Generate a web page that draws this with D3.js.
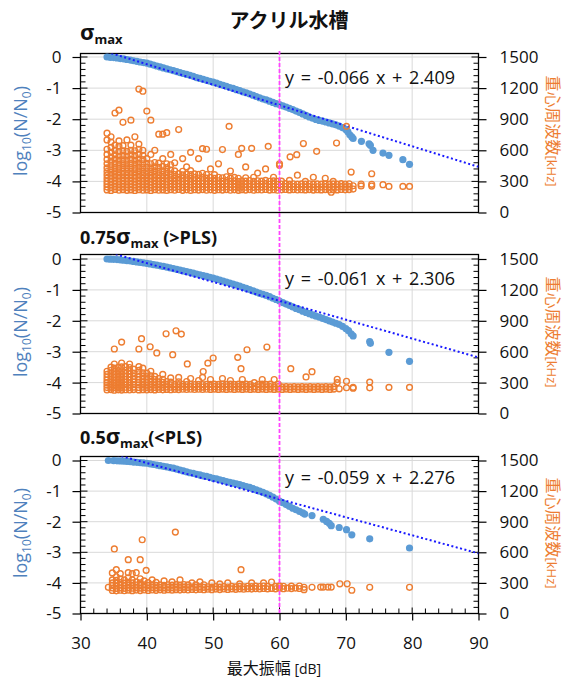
<!DOCTYPE html>
<html lang="ja">
<head>
<meta charset="UTF-8">
<title>アクリル水槽</title>
<script src="https://d3js.org/d3.v7.min.js"></script>
<style>
  body { margin: 0; background: #fff; }
  svg { display: block; background: #fff; }
  .tick text { font-family: 'Open Sans', sans-serif; font-size: 17px; fill: #111; }
</style>
</head>
<body>
<svg id="chart" width="568" height="681"></svg>
<script>
// ---- data ----
const xTicks = [30, 40, 50, 60, 70, 80, 90];
const leftTicks = [0, -1, -2, -3, -4, -5];
const rightTicks = [0, 300, 600, 900, 1200, 1500];

// log10(N/N0) vs max amplitude [dB]
const blue1 = [[34.0,0.00],[34.5,-0.01],[35.0,-0.02],[35.5,-0.03],[36.0,-0.05],[36.5,-0.06],[37.0,-0.08],[37.5,-0.10],[38.0,-0.12],[38.5,-0.14],[39.0,-0.16],[39.5,-0.18],[40.0,-0.20],[40.5,-0.23],[41.0,-0.26],[41.5,-0.29],[42.0,-0.32],[42.5,-0.35],[43.0,-0.38],[43.5,-0.41],[44.0,-0.44],[44.5,-0.47],[45.0,-0.50],[45.5,-0.53],[46.0,-0.56],[46.5,-0.59],[47.0,-0.62],[47.5,-0.66],[48.0,-0.69],[48.5,-0.72],[49.0,-0.75],[49.5,-0.78],[50.0,-0.81],[50.5,-0.84],[51.0,-0.88],[51.5,-0.91],[52.0,-0.94],[52.5,-0.98],[53.0,-1.01],[53.5,-1.05],[54.0,-1.08],[54.5,-1.12],[55.0,-1.15],[55.5,-1.19],[56.0,-1.23],[56.5,-1.27],[57.0,-1.31],[57.5,-1.35],[58.0,-1.38],[58.5,-1.42],[59.0,-1.46],[59.5,-1.50],[60.0,-1.53],[60.5,-1.57],[61.0,-1.61],[61.5,-1.65],[62.0,-1.69],[62.5,-1.74],[63.0,-1.78],[63.5,-1.83],[64.0,-1.88],[64.5,-1.93],[65.0,-1.97],[65.5,-2.01],[66.0,-2.04],[66.5,-2.06],[67.0,-2.09],[67.5,-2.12],[68.0,-2.15],[68.5,-2.18],[69.0,-2.22],[69.5,-2.27],[70.0,-2.33],[70.3,-2.40],[70.6,-2.50],[70.9,-2.57],[71.1,-2.62],[72.35,-2.71],[73.5,-2.79],[73.7,-2.84],[74.1,-3.00],[75.6,-3.09],[76.5,-3.16],[78.6,-3.30],[79.6,-3.45]];
const blue2 = [[34.0,0.00],[34.5,-0.005],[35.0,-0.01],[35.5,-0.02],[36.0,-0.03],[36.5,-0.04],[37.0,-0.05],[37.5,-0.065],[38.0,-0.08],[38.5,-0.095],[39.0,-0.11],[39.5,-0.125],[40.0,-0.14],[40.5,-0.16],[41.0,-0.18],[41.5,-0.20],[42.0,-0.22],[42.5,-0.24],[43.0,-0.26],[43.5,-0.285],[44.0,-0.31],[44.5,-0.335],[45.0,-0.36],[45.5,-0.385],[46.0,-0.41],[46.5,-0.435],[47.0,-0.46],[47.5,-0.485],[48.0,-0.51],[48.5,-0.54],[49.0,-0.565],[49.5,-0.59],[50.0,-0.62],[50.5,-0.65],[51.0,-0.68],[51.5,-0.715],[52.0,-0.75],[52.5,-0.78],[53.0,-0.81],[53.5,-0.845],[54.0,-0.88],[54.5,-0.915],[55.0,-0.95],[55.5,-0.99],[56.0,-1.03],[56.5,-1.07],[57.0,-1.11],[57.5,-1.14],[58.0,-1.18],[58.5,-1.22],[59.0,-1.27],[59.5,-1.31],[60.0,-1.36],[60.5,-1.41],[61.0,-1.46],[61.5,-1.50],[62.0,-1.55],[62.5,-1.60],[63.0,-1.64],[63.5,-1.69],[64.0,-1.73],[64.5,-1.77],[65.0,-1.81],[65.5,-1.85],[66.0,-1.88],[66.5,-1.92],[67.0,-1.96],[67.5,-2.00],[68.0,-2.04],[68.5,-2.08],[69.0,-2.12],[69.5,-2.18],[70.0,-2.25],[70.4,-2.32],[70.8,-2.42],[71.1,-2.49],[73.6,-2.67],[73.7,-2.73],[76.5,-3.02],[79.6,-3.31]];
const blue3 = [[34.2,0.00],[35.0,-0.005],[35.5,-0.01],[36.0,-0.015],[36.5,-0.02],[37.0,-0.03],[37.5,-0.04],[38.0,-0.05],[38.5,-0.06],[39.0,-0.07],[39.5,-0.08],[40.0,-0.09],[40.5,-0.11],[41.0,-0.13],[41.5,-0.15],[42.0,-0.17],[42.5,-0.19],[43.0,-0.21],[43.5,-0.23],[44.0,-0.25],[44.5,-0.28],[45.0,-0.31],[45.5,-0.34],[46.0,-0.37],[46.5,-0.40],[47.0,-0.42],[47.5,-0.45],[48.0,-0.47],[48.5,-0.50],[49.0,-0.52],[49.5,-0.55],[50.0,-0.58],[50.5,-0.60],[51.0,-0.63],[51.5,-0.66],[52.0,-0.69],[52.5,-0.71],[53.0,-0.74],[53.5,-0.76],[54.0,-0.79],[54.5,-0.82],[55.0,-0.85],[55.5,-0.88],[56.0,-0.92],[56.5,-0.96],[57.0,-1.00],[57.5,-1.04],[58.0,-1.09],[58.5,-1.14],[59.0,-1.20],[59.5,-1.26],[60.0,-1.33],[60.5,-1.38],[61.0,-1.44],[61.5,-1.50],[62.0,-1.56],[62.5,-1.61],[63.0,-1.66],[63.5,-1.71],[63.8,-1.75],[64.9,-1.80],[66.6,-1.92],[67.1,-1.99],[67.5,-2.05],[67.8,-2.13],[69.0,-2.19],[70.1,-2.26],[70.9,-2.43],[73.6,-2.56],[79.6,-2.86]];

// centroid frequency [kHz]: [dB, [kHz values at that amplitude]]
const orange1 = [
  [34.0,[218,245,272,300,330,362,395,430,470,512,560,610,700,765]],
  [34.6,[212,240,268,296,325,356,388,422,458,495,535,580,628,680,730]],
  [35.2,[222,250,278,305,336,368,400,436,474,515,556,600,650,960]],
  [35.8,[215,243,270,298,328,360,392,428,466,505,545,590,640,690,987]],
  [36.4,[220,248,276,304,334,366,398,432,470,508,548,595,645,870]],
  [37.0,[214,242,270,300,330,362,396,430,468,505,545,590,700]],
  [37.6,[218,246,274,302,333,365,398,434,472,512,555,600,650,891]],
  [38.2,[212,240,268,297,328,360,393,428,466,505,548,595,730]],
  [38.8,[220,248,276,305,336,368,402,438,476,515,560,610,660,1191]],
  [39.4,[215,243,271,300,331,363,397,433,470,510,552,600,1170]],
  [40.0,[218,246,274,303,334,366,400,436,475,520,978]],
  [40.6,[212,240,268,297,328,360,394,430,470,560,891]],
  [41.2,[220,248,276,305,336,368,402,440,482,600]],
  [41.8,[215,243,271,300,331,363,398,436,476,756]],
  [42.4,[218,246,274,303,334,367,402,445,520,756]],
  [43.0,[213,241,269,298,329,362,396,432,470,770]],
  [43.6,[220,248,276,305,337,372,410,460,560]],
  [44.2,[215,243,271,300,332,366,402,480]],
  [44.8,[222,250,278,307,340,375,800]],
  [45.4,[214,242,270,299,330,362,398,520]],
  [46.0,[219,247,275,304,336,370,440]],
  [46.6,[213,241,269,298,330,365,404,580]],
  [47.2,[220,248,276,306,338,372]],
  [47.8,[216,244,272,301,333,368,520]],
  [48.4,[221,249,277,306,340,378,616]],
  [49.0,[215,243,271,300,332,366,610]],
  [49.6,[219,247,275,305,338,420]],
  [50.2,[214,242,270,299,330,365]],
  [50.8,[220,248,276,306,340,470]],
  [51.4,[216,244,272,302,335,607]],
  [52.0,[221,249,277,307,345]],
  [52.4,[831]],
  [52.6,[215,243,271,300,332,400]],
  [53.2,[219,247,275,305,338]],
  [53.8,[214,242,270,299,330,560]],
  [54.3,[220,248,276,306,619]],
  [54.9,[216,244,272,302,335,440]],
  [55.5,[221,249,277,308]],
  [55.8,[619]],
  [56.1,[215,243,271,300,340]],
  [56.7,[220,248,276,306,380]],
  [57.3,[217,245,273,303]],
  [57.9,[222,250,278,310,420]],
  [58.3,[638]],
  [58.5,[216,244,272,301]],
  [59.1,[220,248,276,305,340]],
  [59.7,[215,243,271,300]],
  [60.0,[455,470]],
  [60.3,[219,247,275,302]],
  [60.9,[222,250,278]],
  [61.5,[218,246,274,310]],
  [61.6,[537]],
  [62.1,[221,249,277]],
  [62.6,[558]],
  [62.7,[217,245,273,360]],
  [63.3,[220,248,276]],
  [63.6,[665]],
  [63.9,[218,246,274,300]],
  [64.5,[221,249,277]],
  [65.1,[216,244,272,340]],
  [65.6,[590]],
  [65.7,[220,248,276]],
  [66.3,[218,246,274]],
  [66.9,[221,249,277,330]],
  [67.5,[217,245,273]],
  [67.8,[196]],
  [68.1,[220,248,276,300]],
  [68.6,[670]],
  [68.7,[218,246,274]],
  [69.3,[222,250,278]],
  [69.9,[219,247,275]],
  [70.1,[831]],
  [70.5,[221,249,277]],
  [70.8,[390]],
  [71.1,[226,258]],
  [72.3,[256,275]],
  [73.9,[255,272,374]],
  [75.6,[268]],
  [76.5,[252]],
  [78.6,[252]],
  [79.6,[252]]
];
const orange2 = [
  [34.0,[228,252,276,300,325,352,380,410]],
  [34.6,[232,256,280,305,330,358,388,420,450]],
  [35.1,[226,250,274,298,323,350,378,408,440,480,626]],
  [35.7,[230,254,278,302,328,356,385,416,448]],
  [36.2,[227,251,275,300,326,354,384,415,452,490,693]],
  [36.8,[231,255,279,304,330,358,388,420,455]],
  [37.4,[228,252,276,300,326,354,383,414,446,480]],
  [38.0,[232,256,280,305,331,360,392,430]],
  [38.8,[229,253,277,302,328,356,386,418,455,626]],
  [39.2,[726]],
  [39.4,[231,255,279,304,332,362,395,440]],
  [40.0,[228,252,276,301,328,358,392]],
  [40.5,[648]],
  [40.6,[232,256,280,306,334,366,410]],
  [41.2,[229,253,277,302,330,360]],
  [41.5,[588]],
  [41.8,[233,257,281,307,340]],
  [42.4,[230,254,278,303,332,380]],
  [42.9,[774]],
  [43.0,[234,258,282,310]],
  [43.6,[231,255,279,305,345]],
  [43.9,[571]],
  [44.2,[235,259,283]],
  [44.4,[803]],
  [44.8,[232,256,280,308,350]],
  [45.2,[771]],
  [45.4,[236,260,284]],
  [46.0,[233,257,281,310]],
  [46.1,[481]],
  [46.6,[236,260,284,340]],
  [47.2,[233,257,281]],
  [47.8,[236,260,284,320]],
  [48.4,[233,257,281,350]],
  [48.5,[408]],
  [49.0,[236,260,284]],
  [49.2,[489]],
  [49.6,[234,258,282,330]],
  [50.0,[539]],
  [50.2,[237,261,285]],
  [50.8,[234,258,282]],
  [51.4,[237,261,285,340]],
  [52.0,[234,258,282]],
  [52.6,[237,261,285,320]],
  [53.2,[234,258,282]],
  [53.7,[545]],
  [53.8,[237,261,285]],
  [54.2,[435]],
  [54.4,[234,258,282,330]],
  [55.0,[237,261,285]],
  [55.1,[619]],
  [55.6,[234,258,282]],
  [56.2,[237,261,300]],
  [56.8,[234,258,282]],
  [57.4,[237,261,285,330]],
  [58.0,[234,258,282]],
  [58.1,[645]],
  [58.6,[237,261,285]],
  [59.2,[234,258,330]],
  [59.8,[237,261,285]],
  [60.4,[234,258]],
  [61.0,[237,261]],
  [61.6,[234,258]],
  [61.7,[435]],
  [62.2,[237,261]],
  [62.8,[234,258]],
  [63.4,[237,261]],
  [64.0,[234,258,355]],
  [64.6,[237,261]],
  [64.9,[406]],
  [65.2,[234,258]],
  [65.8,[237,261]],
  [66.4,[234,258]],
  [67.0,[237,261]],
  [67.6,[234,258]],
  [68.2,[237,261]],
  [68.7,[300,332]],
  [69.0,[240]],
  [70.1,[250,313]],
  [71.1,[245,254]],
  [73.6,[249,305]],
  [76.5,[254]],
  [79.6,[254]]
];
const orange3 = [
  [34.2,[257]],
  [34.8,[226,250,275,300,330,398]],
  [35.1,[633]],
  [35.4,[222,246,270,296,325,360,430]],
  [36.0,[228,252,277,303,340,390]],
  [36.6,[223,247,272,298,330]],
  [37.2,[229,253,278,305,350,400,528]],
  [37.8,[224,248,273,300,330,390]],
  [38.4,[230,254,279,310,400]],
  [39.0,[225,249,274,300,340,528]],
  [39.3,[723]],
  [39.6,[231,255,280,320]],
  [39.9,[423]],
  [40.2,[226,250,275,302]],
  [40.8,[231,255,280,330]],
  [41.4,[227,251,276,305]],
  [42.0,[232,256,281]],
  [42.6,[228,252,277,320]],
  [43.2,[233,257,282]],
  [43.8,[229,253,278,310]],
  [44.3,[798]],
  [44.4,[234,258,283]],
  [45.0,[230,254,279,330]],
  [45.6,[235,259,284]],
  [46.2,[231,255,280]],
  [46.8,[236,260,300]],
  [47.4,[232,256,281]],
  [48.0,[237,261,310]],
  [48.6,[233,257,282]],
  [49.2,[238,262]],
  [49.8,[234,258,300]],
  [50.4,[239,263]],
  [51.0,[235,259,290]],
  [51.6,[240,264]],
  [52.2,[236,260,300]],
  [52.8,[241,265]],
  [53.4,[237,261]],
  [54.0,[242,266,290]],
  [54.2,[430]],
  [54.6,[238,262]],
  [55.2,[243,267]],
  [55.8,[239,263,300]],
  [56.4,[244,268]],
  [57.0,[240,264]],
  [57.6,[245,269,300]],
  [58.2,[241,265]],
  [58.8,[246,309]],
  [59.4,[242,266]],
  [60.0,[247,270]],
  [60.6,[243,267]],
  [61.2,[248]],
  [61.8,[244,268]],
  [62.4,[249]],
  [63.0,[245,269]],
  [63.7,[234,257]],
  [64.9,[257]],
  [66.2,[259]],
  [66.6,[259]],
  [67.3,[259]],
  [67.8,[259]],
  [69.1,[291]],
  [70.2,[291]],
  [70.9,[228]],
  [73.6,[257]],
  [79.6,[257]]
];

// linear fits shown in each panel
const slopes = [-0.066, -0.061, -0.059];
const intercepts = [2.409, 2.306, 2.276];
const fitLabels = ['y = -0.066 x + 2.409', 'y = -0.061 x + 2.306', 'y = -0.059 x + 2.276'];
const markerLine = 60;

// ---- layout ----
const svg = d3.select('#chart');
const x = d3.scaleLinear().domain([30, 90]).range([80.5, 478.5]);
const xL = x(30), xR = x(90);
const latin = "'Open Sans', sans-serif";
const cjk = "'Noto Sans CJK JP', sans-serif";
const blueCol = '#5B9BD5', orangeCol = '#ED7D31';

const panels = [
  { blue: blue1, orange: orange1, top0: 57, bottom: 212.5, frameTop: 53.5, eqY: 84 },
  { blue: blue2, orange: orange2, top0: 259, bottom: 413.5, frameTop: 254.5, eqY: 285 },
  { blue: blue3, orange: orange3, top0: 460.5, bottom: 613.5, frameTop: 456.5, eqY: 484 }
];

panels.forEach((p, i) => {
    const yL = d3.scaleLinear().domain([-5, 0]).range([p.bottom, p.top0]);
    const yR = d3.scaleLinear().domain([0, 1500]).range([p.bottom, p.top0]);
    const g = svg.append('g');

    const clipId = 'clip' + i;
    svg.append('clipPath').attr('id', clipId)
        .append('rect').attr('x', xL).attr('y', p.frameTop)
        .attr('width', xR - xL).attr('height', p.bottom - p.frameTop);

    // gridlines
    g.selectAll('.hg').data(leftTicks.filter(v => v > -5)).join('line')
        .attr('x1', xL).attr('x2', xR)
        .attr('y1', d => yL(d)).attr('y2', d => yL(d))
        .attr('stroke', '#d9d9d9').attr('stroke-width', 1);
    g.selectAll('.vg').data(xTicks.filter(v => v > 30 && v < 90)).join('line')
        .attr('x1', d => x(d)).attr('x2', d => x(d))
        .attr('y1', p.frameTop).attr('y2', p.bottom)
        .attr('stroke', '#d9d9d9').attr('stroke-width', 1);

    // frame
    g.append('rect').attr('x', xL).attr('y', p.frameTop)
        .attr('width', xR - xL).attr('height', p.bottom - p.frameTop)
        .attr('fill', 'none').attr('stroke', '#000').attr('stroke-width', 1.3);

    // left axis
    g.append('g').attr('transform', `translate(${xL},0)`)
        .call(d3.axisLeft(yL).tickValues(leftTicks).tickSize(8).tickSizeOuter(0)
            .tickPadding(11).tickFormat(d => String(d)))
        .call(a => a.select('.domain').remove());
    // right axis
    g.append('g').attr('transform', `translate(${xR},0)`)
        .call(d3.axisRight(yR).tickValues(rightTicks).tickSize(8).tickSizeOuter(0)
            .tickPadding(13).tickFormat(d => String(d)))
        .call(a => a.select('.domain').remove());
    g.selectAll('.tick line').attr('stroke', '#000').attr('stroke-width', 1.2);

    // inner ticks (major + minor)
    const minorL = d3.range(-5, 0.001, 0.2);
    g.selectAll('.mtl').data(minorL).join('line')
        .attr('x1', xL).attr('x2', d => xL + (Math.abs(d - Math.round(d)) < 1e-6 ? 7 : 5))
        .attr('y1', d => yL(d)).attr('y2', d => yL(d))
        .attr('stroke', '#000').attr('stroke-width', 1);
    const minorR = d3.range(0, 1501, 60);
    g.selectAll('.mtr').data(minorR).join('line')
        .attr('x1', xR).attr('x2', d => xR - (d % 300 === 0 ? 7 : 5))
        .attr('y1', d => yR(d)).attr('y2', d => yR(d))
        .attr('stroke', '#000').attr('stroke-width', 1);

    // bottom axis only on last panel
    if (i === 2) {
        g.append('g').attr('transform', `translate(0,${p.bottom})`)
            .call(d3.axisBottom(x).tickValues(xTicks).tickSize(7).tickSizeOuter(0).tickPadding(16))
            .call(a => a.select('.domain').remove())
            .call(a => a.selectAll('.tick line').attr('stroke', '#000').attr('stroke-width', 1.2));
        g.selectAll('.mtx').data(d3.range(30, 90.1, 2)).join('line')
            .attr('x1', d => x(d)).attr('x2', d => x(d))
            .attr('y1', p.bottom).attr('y2', d => p.bottom - (d % 10 === 0 ? 6 : 5))
            .attr('stroke', '#000').attr('stroke-width', 1);
    }

    // blue: log10(N/N0)
    g.append('g').selectAll('circle').data(p.blue).join('circle')
        .attr('cx', d => x(d[0])).attr('cy', d => yL(d[1])).attr('r', 3.6)
        .attr('fill', blueCol);

    // linear fit (dotted)
    const fx = [d3.min(p.blue, d => d[0]), 90];
    g.append('path')
        .datum(fx.map(v => [v, slopes[i] * v + intercepts[i]]))
        .attr('clip-path', `url(#${clipId})`)
        .attr('d', d3.line().x(d => x(d[0])).y(d => yL(d[1])))
        .attr('fill', 'none').attr('stroke', '#1a1aff')
        .attr('stroke-width', 2).attr('stroke-dasharray', '2,2.5');

    // orange: centroid frequency (secondary axis)
    const pts = p.orange.flatMap(([db, ks]) => ks.map(k => [db, k]));
    g.append('g').selectAll('circle').data(pts).join('circle')
        .attr('cx', d => x(d[0])).attr('cy', d => yR(d[1])).attr('r', 2.9)
        .attr('fill', 'none').attr('stroke', orangeCol).attr('stroke-width', 1.4);

    // fit equation
    g.append('text').attr('x', 285).attr('y', p.eqY)
        .attr('font-family', latin).attr('font-size', 18).attr('fill', '#111')
        .attr('word-spacing', 2)
        .text(fitLabels[i]);

    // left axis title
    const midY = (p.frameTop + p.bottom) / 2 - 2;
    const tl = g.append('text')
        .attr('transform', `translate(27,${midY}) rotate(-90)`)
        .attr('text-anchor', 'middle').attr('font-family', latin)
        .attr('font-size', 18).attr('fill', '#4F81BD');
    tl.append('tspan').text('log');
    tl.append('tspan').attr('font-size', 12).attr('dy', 4).text('10');
    tl.append('tspan').attr('dy', -4).text('(N/N');
    tl.append('tspan').attr('font-size', 12).attr('dy', 4).text('0');
    tl.append('tspan').attr('dy', -4).text(')');

    // right axis title
    const tr = g.append('text')
        .attr('transform', `translate(547,${midY}) rotate(90)`)
        .attr('text-anchor', 'middle').attr('font-family', cjk)
        .attr('font-size', 16).attr('fill', orangeCol);
    tr.append('tspan').text('重心周波数');
    tr.append('tspan').attr('font-family', latin).attr('font-size', 13).text('[kHz]');
});

// vertical marker at 60 dB across all panels
svg.append('line')
    .attr('x1', x(markerLine)).attr('x2', x(markerLine))
    .attr('y1', 51).attr('y2', panels[2].bottom)
    .attr('stroke', '#ff44ff').attr('stroke-width', 1.8).attr('stroke-dasharray', '4,2');

// title
svg.append('text').attr('x', 289).attr('y', 28).attr('text-anchor', 'middle')
    .attr('font-family', cjk).attr('font-size', 20).attr('font-weight', 'bold')
    .attr('fill', '#111').text('アクリル水槽');

// panel labels
function panelLabel(y, pre, post) {
    const t = svg.append('text').attr('x', 80).attr('y', y)
        .attr('font-family', latin).attr('font-weight', 'bold').attr('fill', '#111')
        .attr('font-size', 18);
    t.append('tspan').text(pre);
    t.append('tspan').attr('font-size', 22).text('σ');
    t.append('tspan').attr('font-size', 13).attr('dy', 4).text('max');
    if (post) t.append('tspan').attr('dy', -4).text(post);
}
panelLabel(40, '', '');
panelLabel(244, '0.75', ' (>PLS)');
panelLabel(444, '0.5', '(<PLS)');

// x axis title
const xt = svg.append('text').attr('x', 274).attr('y', 674).attr('text-anchor', 'middle')
    .attr('font-family', cjk).attr('font-size', 16).attr('fill', '#111');
xt.append('tspan').text('最大振幅 ');
xt.append('tspan').attr('font-family', latin).attr('font-size', 14).text('[dB]');
</script>
</body>
</html>
